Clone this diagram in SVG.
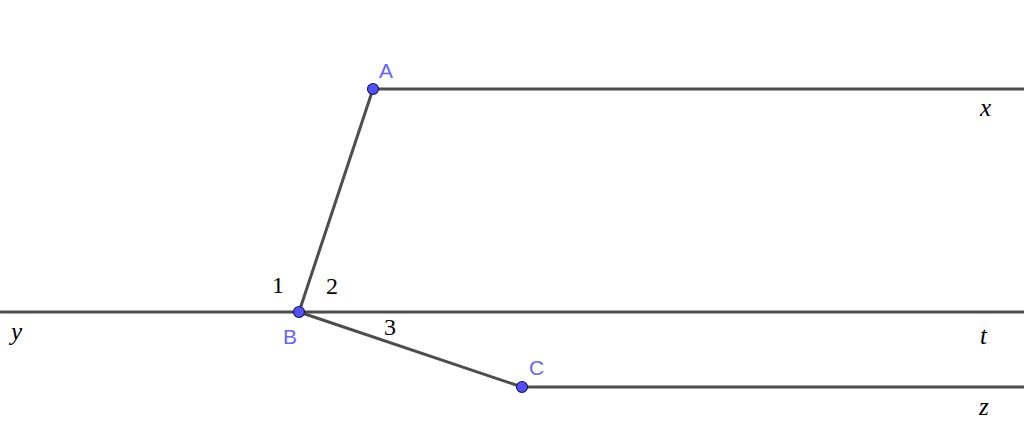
<svg xmlns="http://www.w3.org/2000/svg" width="1024" height="445" viewBox="0 0 1024 445">
<style>
.ln{stroke:#4d4d4d;stroke-width:3;fill:none;stroke-linecap:round}
.pt{fill:#5050ff;stroke:#1a1a4d;stroke-width:1.2}
.pl{font-family:"Liberation Sans",Arial,sans-serif;font-size:21px;fill:#6464ff}
.vl{font-family:"Liberation Serif","Times New Roman",serif;font-style:italic;font-size:25px;fill:#000}
.nl{font-family:"Liberation Serif","Times New Roman",serif;font-size:24px;fill:#000}
</style>
<rect width="1024" height="445" fill="#fff"/>
<g id="connectors">
<line class="ln" x1="373" y1="89" x2="1026" y2="89"/>
<line class="ln" x1="-2" y1="312" x2="1026" y2="312"/>
<line class="ln" x1="522" y1="387" x2="1026" y2="387"/>
<line class="ln" x1="373" y1="89" x2="299" y2="312"/>
<line class="ln" x1="299" y1="312" x2="522" y2="387"/>
</g>
<g id="A"><circle class="pt" cx="373" cy="89" r="5.5"/><text class="pl" x="379" y="78">A</text></g>
<g id="B"><circle class="pt" cx="299" cy="312" r="5.5"/><text class="pl" x="283" y="344">B</text></g>
<g id="C"><circle class="pt" cx="522" cy="387" r="5.5"/><text class="pl" x="529" y="375">C</text></g>
<g id="labels">
<text class="vl" x="980" y="116">x</text>
<text class="vl" x="11" y="340">y</text>
<text class="vl" x="980" y="344">t</text>
<text class="vl" x="979" y="415">z</text>
<text class="nl" x="272" y="293">1</text>
<text class="nl" x="326" y="294">2</text>
<text class="nl" x="384" y="335">3</text>
</g>
</svg>
